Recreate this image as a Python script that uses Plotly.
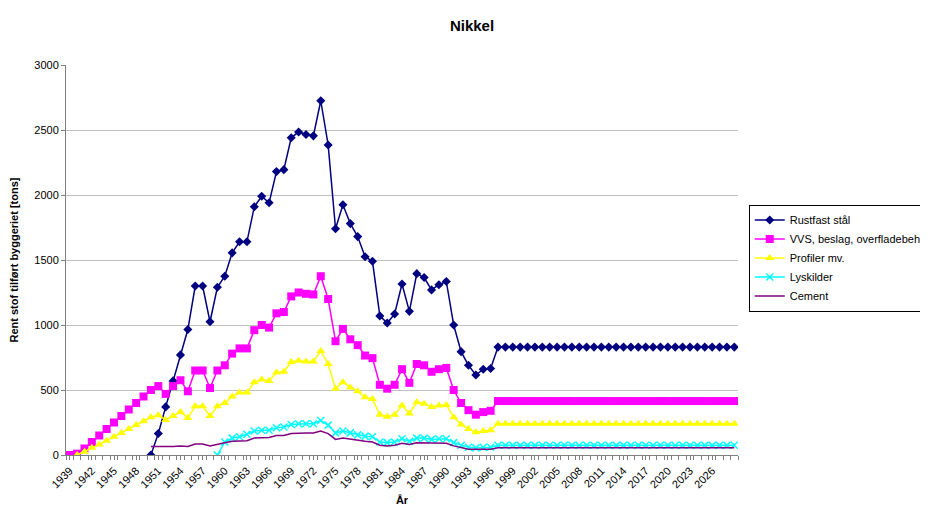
import plotly.graph_objects as go

years = list(range(1939, 2030))
N = len(years)

rustfast = [None]*11 + [0,165,370,570,770,965,1300,1300,1025,1290,
    1375,1555,1640,1640,1910,1990,1940,2180,2195,2440,
    2485,2465,2455,2725,2385,1740,1925,1780,1680,1525,
    1490,1070,1015,1085,1315,1105,1395,1365,1270,1310,
    1335,1000,795,690,615,660,665] + [830]*33
vvs = [0,10,50,100,150,200,250,300,350,400,
    450,500,530,470,530,575,490,650,650,515,
    650,690,780,820,820,960,1000,980,1090,1100,
    1220,1250,1240,1235,1375,1200,875,970,890,845,
    765,745,540,510,540,660,555,700,690,640,
    660,670,500,400,345,310,330,340] + [415]*33
profiler = [None] + [0,25,55,80,110,140,170,200,230,260,
    290,305,270,300,330,285,375,375,300,375,
    400,450,480,480,560,580,570,635,640,715,
    725,720,720,800,700,510,560,520,490,445,
    430,310,295,310,380,320,405,395,370,380,
    385,290,235,200,175,185,190] + [240]*33
lyskilder = [None]*20 + [0,100,130,140,160,185,190,190,210,215,
    235,240,240,240,265,230,170,185,170,155,
    145,140,100,95,100,125,105,130,130,120,
    125,125,95,75,60,55,60,60] + [75]*33
cement = [None]*11 + [65,65,60,65,70,65,85,85,70,85,
    95,105,110,110,130,135,135,150,150,165,
    170,170,170,185,165,120,130,120,110,105,
    100,75,70,75,90,80,95,95,90,90,
    90,70,55,45,45,45,45] + [55]*33

tick_years = list(range(1939, 2027, 3))

fig = go.Figure()
fig.add_trace(go.Scatter(x=years, y=rustfast, name="Rustfast stål", mode="lines+markers",
    line=dict(color="#000080", width=1.5), marker=dict(symbol="diamond", size=7, color="#000080")))
fig.add_trace(go.Scatter(x=years, y=vvs, name="VVS, beslag, overfladebeh.", mode="lines+markers",
    line=dict(color="#FF00FF", width=1.5), marker=dict(symbol="square", size=8, color="#FF00FF")))
fig.add_trace(go.Scatter(x=years, y=profiler, name="Profiler mv.", mode="lines+markers",
    line=dict(color="#FFFF00", width=1.5), marker=dict(symbol="triangle-up", size=8, color="#FFFF00")))
fig.add_trace(go.Scatter(x=years, y=lyskilder, name="Lyskilder", mode="lines+markers",
    line=dict(color="#00FFFF", width=1.5), marker=dict(symbol="x-thin", size=7, color="#00FFFF",
    line=dict(color="#00FFFF", width=1.5))))
fig.add_trace(go.Scatter(x=years, y=cement, name="Cement", mode="lines",
    line=dict(color="#800080", width=1.5)))

fig.update_layout(
    width=928, height=506, paper_bgcolor="white", plot_bgcolor="white",
    margin=dict(l=58, r=198, t=57, b=59, autoexpand=False),
    font=dict(family="Liberation Sans, Arial", size=11, color="black"),
    title=dict(text="<b>Nikkel</b>", x=0.5, xanchor="center", y=0.975, yanchor="top",
               font=dict(size=15), automargin=False),
    legend=dict(x=1.016, xanchor="left", y=0.505, yanchor="middle",
                bordercolor="black", borderwidth=1, font=dict(size=11), tracegroupgap=0),
    xaxis=dict(range=[1938.5, 2029.5], tickvals=tick_years, ticktext=[str(y) for y in tick_years],
               tickangle=-45, showgrid=False, showline=True, linecolor="#808080", linewidth=1,
               ticks="outside", ticklen=4, tickcolor="#808080", automargin=False,
               minor=dict(dtick=1, tick0=1938.5, ticks="outside", ticklen=4, tickcolor="#808080"),
               title=dict(text="<b>År</b>", standoff=6, font=dict(size=11)), zeroline=False),
    yaxis=dict(range=[0, 3000], dtick=500, showgrid=True, gridcolor="#C0C0C0", automargin=False,
               showline=True, linecolor="#808080", ticks="outside", ticklen=4, tickcolor="#808080",
               title=dict(text="<b>Rent stof tilført byggeriet [tons]</b>", font=dict(size=11)),
               zeroline=False),
)
fig.write_html("out.html")
